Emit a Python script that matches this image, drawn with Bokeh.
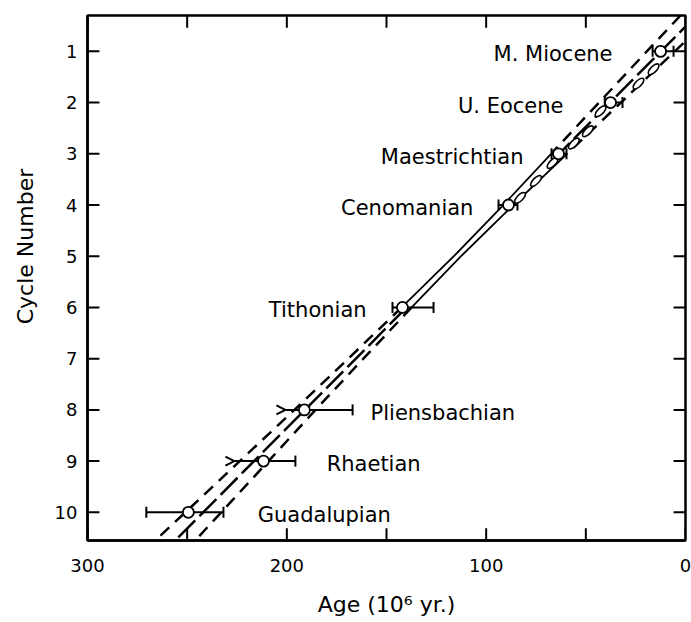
from bokeh.plotting import figure
from bokeh.models import (Range1d, FixedTicker, Whisker, TeeHead, OpenHead,
                          ColumnDataSource)
from bokeh.core.properties import value
from bokeh.embed import file_html
from bokeh.resources import INLINE

FONT = "DejaVu Sans"

# ---- data ----
names = ["M. Miocene", "U. Eocene", "Maestrichtian", "Cenomanian",
         "Tithonian", "Pliensbachian", "Rhaetian", "Guadalupian"]
cycles = [1, 2, 3, 4, 6, 8, 9, 10]
ages = [12.5, 37.6, 63.7, 88.8, 142.0, 191.2, 211.7, 249.4]
err_old = [16.5, 40.5, 67.2, 93.8, 147.0, 200.7, 226.3, 270.5]
err_young = [6.0, 31.6, 59.7, 84.3, 126.4, 167.0, 195.7, 231.8]
arrow_left = [False, False, False, False, False, True, True, False]

label_ages = [36.6, 61.2, 81.3, 106.4, 160.0, 158.0, 180.0, 214.6]
label_right = [True, True, True, True, True, False, False, False]

# regression line and confidence band
center_cycles = [0.3, 3.0, 6.0, 10.55]
center_ages = [-5.5, 63.4, 139.9, 256.0]
band_cycles = [0.3, 1, 2, 3, 4, 5, 6, 7, 8, 9, 10, 10.55]
band_old = [2.5, 19.4, 43.4, 67.4, 91.4, 116.2, 142.4, 169.2, 196.2, 223.6, 250.9, 266.0]
band_young = [-13.5, 5.4, 32.4, 59.4, 86.4, 112.6, 137.4, 161.6, 185.6, 209.2, 232.9, 246.0]

# small link symbols along the line
link_cycles = [1.35, 1.63, 2.17, 2.56, 2.8, 3.18, 3.53, 3.86]
link_ages = [16.0, 23.6, 42.6, 49.0, 56.0, 66.7, 75.0, 83.0]

x_ticks = [0, 50, 100, 150, 200, 250, 300]
x_labeled = [0, 100, 200, 300]
y_ticks = [1, 2, 3, 4, 5, 6, 7, 8, 9, 10]

# axis extents
X_OLD, X_YOUNG = 300, 0
Y_BOTTOM, Y_TOP = 10.55, 0.3
TICK_DY = 0.24     # tick length in cycle units (~12 px)
TICK_DX = 6.0      # tick length in age units (~12 px)

# ---- figure ----
p = figure(width=691, height=622, x_range=Range1d(X_OLD, X_YOUNG),
           y_range=Range1d(Y_BOTTOM, Y_TOP), output_backend="svg",
           toolbar_location=None, min_border_left=87, min_border_right=6,
           min_border_top=15, min_border_bottom=82)
p.grid.visible = False
p.outline_line_color = "black"
p.outline_line_width = 2.5
p.background_fill_color = "white"
p.border_fill_color = "white"

for ax in (p.xaxis[0], p.yaxis[0]):
    ax.axis_line_color = "black"
    ax.axis_line_width = 2.5
    ax.major_tick_line_color = None
    ax.minor_tick_line_color = None
    ax.major_tick_out = 0
    ax.major_tick_in = 0
    ax.major_label_text_font = FONT
    ax.major_label_text_font_size = "18px"
    ax.major_label_text_color = "black"
    ax.axis_label_text_font = FONT
    ax.axis_label_text_font_size = "22px"
    ax.axis_label_text_font_style = "normal"
    ax.axis_label_text_color = "black"

xa = p.xaxis[0]
xa.ticker = FixedTicker(ticks=x_labeled)
xa.major_label_standoff = 18
xa.axis_label = "Age (10\u2076 yr.)"
xa.axis_label_standoff = 17

ya = p.yaxis[0]
ya.ticker = FixedTicker(ticks=y_ticks)
ya.major_label_standoff = 10
# leading no-break spaces lift the centred label a little, as in the original
ya.axis_label = "\u00a0" * 9 + "Cycle Number"
ya.axis_label_standoff = 14

# inward tick marks on all four sides
p.segment(x0=x_ticks, x1=x_ticks, y0=[Y_BOTTOM] * len(x_ticks),
          y1=[Y_BOTTOM - TICK_DY] * len(x_ticks), line_color="black", line_width=2)
p.segment(x0=x_ticks, x1=x_ticks, y0=[Y_TOP] * len(x_ticks),
          y1=[Y_TOP + TICK_DY] * len(x_ticks), line_color="black", line_width=2)
p.segment(x0=[X_OLD] * len(y_ticks), x1=[X_OLD - TICK_DX] * len(y_ticks),
          y0=y_ticks, y1=y_ticks, line_color="black", line_width=2)
p.segment(x0=[X_YOUNG] * len(y_ticks), x1=[X_YOUNG + TICK_DX] * len(y_ticks),
          y0=y_ticks, y1=y_ticks, line_color="black", line_width=2)

# ---- band & central line ----
for sl in (slice(0, 4), slice(6, 12)):
    p.line(band_old[sl], band_cycles[sl], line_color="black", line_width=2.5,
           line_dash="12 8")
    p.line(band_young[sl], band_cycles[sl], line_color="black", line_width=2.5,
           line_dash="12 8")
p.line(band_old[3:7], band_cycles[3:7], line_color="black", line_width=1.8)
p.line(band_young[3:7], band_cycles[3:7], line_color="black", line_width=1.8)
for sl in (slice(0, 2), slice(2, 4)):
    p.line(center_ages[sl], center_cycles[sl], line_color="black", line_width=2.5,
           line_dash="24 6")

p.ellipse(x=link_ages, y=link_cycles, width=14, height=6, width_units="screen",
          height_units="screen", angle=0.785, fill_color="white",
          line_color="black", line_width=1.6)

# ---- error bars ----
def whisk(idx, upper_head):
    src = ColumnDataSource(dict(cycle=[cycles[i] for i in idx],
                                old=[err_old[i] for i in idx],
                                young=[err_young[i] for i in idx]))
    w = Whisker(base="cycle", lower="young", upper="old", dimension="width",
                source=src, line_color="black", line_width=2,
                lower_head=TeeHead(size=11, line_width=2, line_color="black"),
                upper_head=upper_head)
    p.add_layout(w)

tee_idx = [i for i in range(len(cycles)) if not arrow_left[i]]
arr_idx = [i for i in range(len(cycles)) if arrow_left[i]]
whisk(tee_idx, TeeHead(size=11, line_width=2, line_color="black"))
whisk(arr_idx, OpenHead(size=9, line_width=2, line_color="black"))

pts = ColumnDataSource(dict(age=ages, cycle=cycles))
p.scatter("age", "cycle", source=pts, marker="circle", size=11,
          fill_color="white", line_color="black", line_width=1.8)

# ---- labels ----
r_idx = [i for i in range(len(names)) if label_right[i]]
l_idx = [i for i in range(len(names)) if not label_right[i]]
for idx, align in ((r_idx, "right"), (l_idx, "left")):
    p.text(x=[label_ages[i] for i in idx], y=[cycles[i] for i in idx],
           text=[names[i] for i in idx], text_align=align,
           text_baseline="middle", text_font=value(FONT),
           text_font_size="21px", text_color="black", y_offset=3)

open("out.html", "w").write(file_html(p, INLINE))
